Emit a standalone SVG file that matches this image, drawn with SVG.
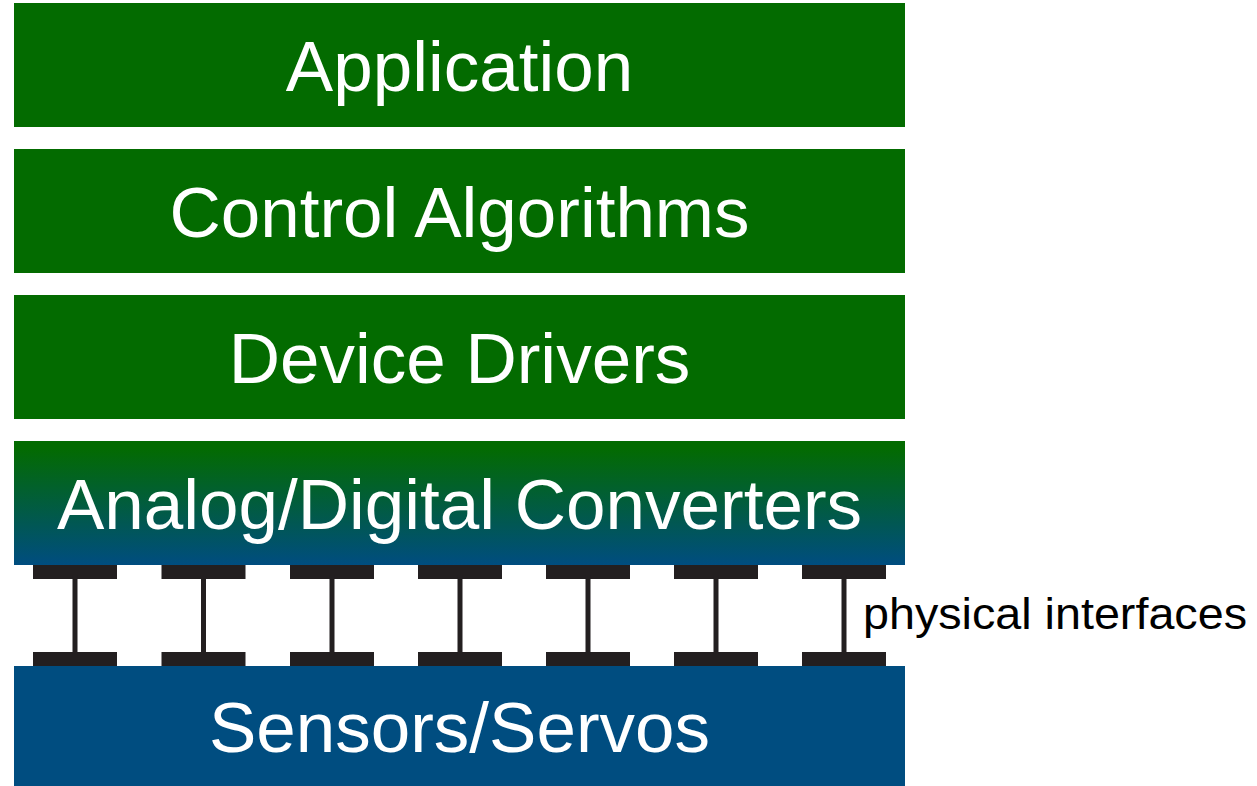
<svg xmlns="http://www.w3.org/2000/svg" width="1257" height="786" viewBox="0 0 1257 786">
<style>
.g{fill:#036b00}
.b{fill:#004d80}
.lbl{font-family:"Liberation Sans",Arial,sans-serif;font-size:71px;fill:#fff;text-anchor:middle}
.bar{fill:#231f20}
.side{font-family:"Liberation Sans",Arial,sans-serif;font-size:45px;fill:#000}
</style>
<defs>
<linearGradient id="grad" x1="0" y1="0" x2="0" y2="1">
<stop offset="0.05" stop-color="#036b00"/>
<stop offset="1" stop-color="#004d80"/>
</linearGradient>
<g id="conn">
<rect x="-42" y="565" width="84" height="14"/>
<rect x="-42" y="652" width="84" height="14"/>
<rect x="-2.5" y="575" width="5" height="80"/>
</g>
</defs>
<rect width="1257" height="786" fill="#fff"/>
<g id="application"><rect class="g" x="14" y="3" width="891" height="124"/><text class="lbl" x="459.5" y="91">Application</text></g>
<g id="control"><rect class="g" x="14" y="149" width="891" height="124"/><text class="lbl" x="459.5" y="237">Control Algorithms</text></g>
<g id="drivers"><rect class="g" x="14" y="295" width="891" height="124"/><text class="lbl" x="459.5" y="383">Device Drivers</text></g>
<g id="adc"><rect x="14" y="441" width="891" height="124" fill="url(#grad)"/><text class="lbl" x="459.5" y="529">Analog/Digital Converters</text></g>
<g id="sensors"><rect class="b" x="14" y="666" width="891" height="120"/><text class="lbl" x="459.5" y="752">Sensors/Servos</text></g>
<g id="connectors" class="bar">
<use href="#conn" x="75"/>
<use href="#conn" x="203.5"/>
<use href="#conn" x="332"/>
<use href="#conn" x="460"/>
<use href="#conn" x="588"/>
<use href="#conn" x="716"/>
<use href="#conn" x="844"/>
</g>
<text class="side" x="863" y="629" textLength="384" lengthAdjust="spacingAndGlyphs">physical interfaces</text>
</svg>
